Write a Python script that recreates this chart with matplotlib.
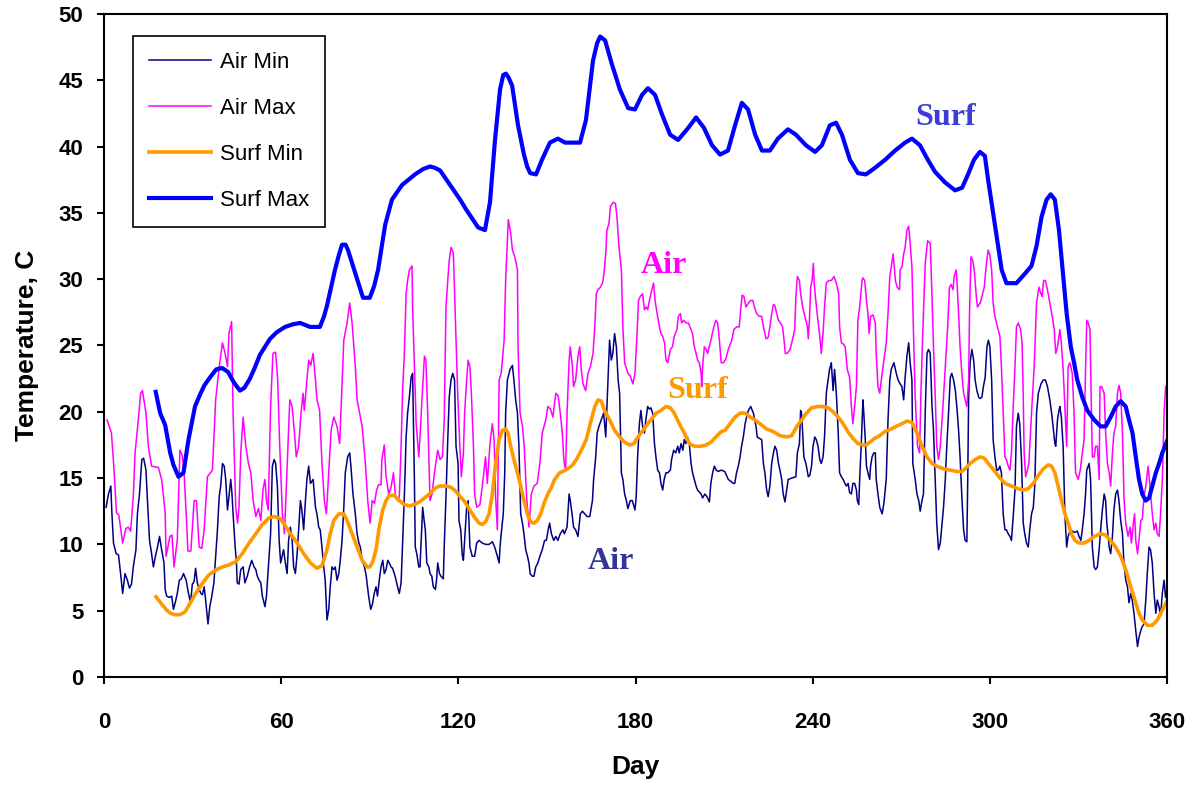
import matplotlib
matplotlib.use("Agg")
import matplotlib.pyplot as plt

plt.rcParams['font.family'] = ['Liberation Sans', 'DejaVu Sans']

# ---- data (day, temperature C) ----
air_max_day = [1, 2.5, 3.3, 4.2, 5, 6.3, 7.4, 8.2, 9, 9.9, 10.5, 11.6, 12.4, 13, 14.2, 15, 16.1, 18.4, 19.5, 20.7, 21, 22.3, 23, 23.7, 24.8, 25.7, 26.5, 27.1, 27.8, 28.4, 29.4, 30.5,
               31.3, 32.2, 33.1, 33.9, 35, 36.7, 37.8, 39, 40.1, 41, 41.8, 42.3, 43.2, 43.7, 44.6, 45.2, 45.7, 46.3, 47.1, 48, 48.9, 49.7, 50.5, 51.4, 52.3, 53.1, 53.8, 54.5, 55, 55.6, 56.4, 57.2, 58.1, 58.8, 59.5, 60.4, 61.1,
               62, 62.9, 63.7, 64.5, 65.1, 65.9, 66.7, 67.4, 67.8, 68.7, 69.3, 70, 70.8, 71.6, 72.1, 73, 73.8, 74.6, 75.3, 76.1, 76.9, 77.8, 78.9, 79.8, 80.3, 81.2, 82.3, 83.2, 84, 85.1, 85.7, 87.4, 88.5, 89.3,
               90.1, 90.8, 91.6, 92.3, 93, 93.8, 94.1, 94.9, 95.5, 96.4, 97.2, 98, 98.7, 99.4, 100, 100.6, 101.1, 101.7, 102.3, 102.8, 103.4, 104.3, 104.5, 105.1, 105.7, 106.6, 107, 107.7, 108.5, 109, 109.6, 110.4, 111.1, 111.9, 113, 113.8, 114.6, 115.2, 115.8, 116.4, 116.9, 117.5, 118.3, 119, 119.8,
               120.5, 121, 121.7, 122.1, 122.8, 123.3, 123.9, 124.4, 125.1, 125.5, 126.2, 127.3, 128.1, 128.7, 129.2, 129.8, 130.7, 131.5, 132.1, 132.6, 133.2, 133.8, 134.5, 135.5, 136, 136.6, 136.9, 137.7, 138.3, 139.1, 140, 140.2, 140.9, 141.7, 142.3, 143.1, 143.9, 144.7, 145.6, 146.7, 147.6, 148.4, 149.6,
               150.3, 151.2, 152, 153, 153.8, 154.5, 155.2, 155.7, 156.3, 156.8, 157.5, 157.9, 158.6, 159, 159.7, 160.5, 161.1, 161.6, 162.2, 163.1, 163.9, 164.7, 165.6, 166.2, 166.7, 167.3, 168.1, 168.8, 169.3, 169.9, 170.3, 171, 171.5, 172.4, 173.2, 173.7, 174.4, 175.2, 175.7, 176.3, 177.4, 178.2, 179.1, 179.8,
               180.5, 181, 181.6, 182.4, 183, 183.6, 184.1, 184.7, 185.5, 186.1, 186.6, 187.3, 188.1, 188.6, 189.2, 189.8, 190.3, 190.9, 191.8, 192.5, 193.1, 194, 194.5, 195.2, 195.6, 196.3, 197.1, 197.9, 198.6, 199.3, 199.9, 200.5, 201, 201.6, 202.2, 202.4, 202.7, 203.3, 203.9, 204.4, 205.3, 205.8, 206.5, 207.2, 207.8, 208.4, 209,
               209.8, 210.6, 211.4, 212.6, 213.3, 214.2, 215.1, 215.6, 216.1, 216.7, 217.4, 218.2, 219, 219.7, 220.4, 221, 221.9, 222.7, 223.5, 224.2, 224.9, 225.5, 226.1, 226.7, 227.2, 227.8, 228.4, 229.1, 229.8, 230.3, 230.7, 231.2, 231.7, 232.3, 232.9, 233.4, 233.9, 234.3, 234.8, 235.5, 235.9, 236.6, 237.1, 237.7, 238.2, 238.5, 238.9, 239.3, 239.8,
               240.2, 240.5, 240.9, 241.6, 242.4, 242.9, 243.5, 244, 244.6, 245.4, 246.3, 247.2, 248, 248.8, 249.1, 249.7, 250.4, 251, 251.7, 252.5, 253.1, 253.6, 254.2, 254.8, 255.3, 255.9, 256.7, 257, 257.6, 258.2, 258.7, 259.1, 259.6, 260.4, 261.2, 261.5, 262.1, 262.7, 263.5, 264.1, 264.9, 265.5, 266.1, 266.6, 267.2, 267.5, 268, 268.6, 269.4,
               269.6, 270.2, 270.8, 271.3, 271.9, 272.5, 273, 273.6, 274.1, 274.7, 275.5, 276.2, 276.6, 277.3, 278.1, 278.9, 279.8, 280.4, 280.9, 281.5, 282, 282.6, 283.2, 284.1, 284.9, 285.7, 286.3, 286.9, 287.5, 287.9, 288.6, 289, 289.4, 289.9, 290.5, 291.1, 291.6, 292.2, 292.8, 293.1, 293.6, 294.2, 294.7, 295.4, 295.8, 296.7, 297.3, 298.1, 298.7, 299.4,
               300, 300.6, 301.1, 301.7, 302.8, 303.4, 303.9, 304.5, 305.1, 305.6, 306.2, 306.8, 307.3, 307.9, 308.5, 309, 309.6, 310.4, 310.9, 311.3, 311.6, 312.1, 312.7, 313.2, 314.1, 315, 315.8, 316.6, 317.3, 317.7, 318.2, 318.8, 319.5, 320.3, 321.1, 321.8, 322.3, 322.9, 323.7, 324.2, 324.8, 325.4, 326, 326.5, 327.1, 327.9, 328.5, 329,
               329.9, 330.6, 331.3, 331.9, 332.4, 332.8, 333.3, 333.9, 334.4, 334.7, 335.3, 335.8, 336.4, 337, 337.3, 337.8, 338.7, 339.2, 339.8, 340.4, 340.9, 341.5, 342, 342.6, 343.2, 343.7, 344.3, 344.9, 345.4, 346, 346.8, 347.5, 347.9, 348.6, 349, 349.4, 350, 350.5, 351.1, 351.6, 352.2, 352.8, 353.6, 354.2, 355, 355.6, 356.2, 356.7, 357.3, 357.8, 358.4, 359, 359.5, 360]
air_max = [19.4, 18.4, 15.9, 12.4, 12.2, 10.1, 11.2, 11.3, 11.0, 13.6, 16.9, 19.4, 21.4, 21.6, 19.9, 17.4, 15.9, 15.8, 14.9, 12.4, 9.1, 10.6, 10.7, 8.3, 10.3, 17.1, 16.7, 15.4, 12.4, 9.5, 9.5, 13.3,
           13.3, 9.8, 9.7, 11.1, 15.1, 15.6, 20.9, 23.4, 25.2, 24.4, 23.4, 25.9, 26.8, 19.9, 12.8, 11.6, 12.8, 16.9, 19.6, 17.4, 16.1, 15.4, 13.3, 12.1, 12.7, 11.8, 14.1, 14.9, 13.3, 12.6, 20.4, 24.4, 24.5, 22.4, 17.4, 12.3, 10.8,
           15.9, 20.9, 20.4, 18.4, 16.6, 17.4, 19.9, 21.4, 20.1, 22.4, 23.9, 23.5, 24.4, 22.4, 20.9, 20.1, 16.1, 13.3, 12.3, 15.4, 18.6, 19.6, 18.9, 17.6, 20.4, 25.4, 26.7, 28.2, 26.7, 23.4, 20.9, 18.9, 16.1, 13.3,
           11.6, 13.3, 13.1, 14.1, 14.5, 14.5, 16.4, 17.5, 15.1, 13.8, 14.3, 15.4, 13.6, 13.3, 13.6, 17.4, 21.6, 24.4, 28.9, 29.9, 30.7, 31.0, 27.9, 23.4, 19.1, 16.6, 18.1, 21.1, 24.2, 23.9, 19.9, 13.3, 13.8, 15.4, 17.1, 16.4, 16.6, 19.4, 27.9, 29.9, 31.4, 32.4, 32.0, 26.9, 21.1,
           17.4, 15.1, 16.9, 19.9, 22.4, 23.9, 23.4, 21.4, 17.4, 13.8, 12.8, 13.0, 14.4, 15.6, 16.6, 14.6, 17.6, 19.1, 17.9, 13.6, 11.1, 22.4, 22.9, 25.4, 29.9, 33.0, 34.5, 33.5, 32.2, 31.7, 30.7, 24.9, 19.9, 18.9, 17.4, 13.6, 11.3, 13.8, 14.4, 14.6, 16.1, 18.4, 19.4,
           20.4, 20.2, 19.6, 21.4, 21.2, 19.9, 18.4, 16.4, 15.6, 19.9, 23.9, 24.9, 23.4, 21.9, 22.4, 24.2, 24.9, 23.2, 22.1, 21.6, 22.9, 23.4, 24.4, 26.4, 28.9, 29.2, 29.4, 29.7, 30.4, 31.9, 33.7, 34.2, 35.5, 35.8, 35.7, 34.7, 32.4, 30.7, 26.4, 23.7, 22.9, 22.7, 22.1, 22.9,
           25.9, 28.4, 28.7, 28.9, 27.7, 27.9, 27.7, 28.4, 29.2, 29.7, 28.4, 27.4, 26.4, 25.9, 25.7, 25.2, 23.9, 23.7, 24.7, 24.9, 25.7, 26.2, 27.2, 27.4, 26.7, 26.9, 26.7, 26.7, 26.3, 25.9, 24.9, 24.4, 23.9, 23.7, 22.9, 21.9, 23.4, 24.9, 24.7, 24.4, 25.2, 25.7, 26.4, 26.9, 26.7, 25.4, 23.7,
           23.7, 24.0, 24.7, 25.4, 26.2, 26.4, 26.4, 27.7, 28.8, 28.7, 27.9, 28.2, 28.4, 28.4, 27.8, 27.4, 27.2, 27.2, 26.2, 25.5, 25.6, 26.4, 27.4, 28.1, 28.0, 27.4, 26.9, 26.7, 26.4, 25.4, 24.4, 24.4, 24.5, 24.7, 25.2, 25.7, 26.2, 28.7, 30.2, 29.9, 28.9, 27.9, 27.4, 26.9, 26.4, 25.5, 27.0, 29.4, 29.9,
           31.2, 29.7, 28.7, 27.2, 25.7, 24.4, 25.9, 27.9, 29.7, 29.9, 29.9, 30.2, 29.7, 28.9, 26.4, 25.2, 25.1, 24.9, 23.2, 22.6, 20.4, 19.1, 20.4, 21.9, 26.9, 27.9, 29.9, 30.1, 29.9, 28.4, 27.4, 25.9, 27.2, 27.3, 26.7, 24.4, 21.9, 21.4, 22.9, 23.9, 25.2, 27.4, 30.2, 30.9, 31.9, 31.2, 29.9, 29.4, 29.2,
           30.7, 30.9, 31.9, 32.4, 33.7, 34.0, 32.7, 30.9, 26.2, 21.1, 17.4, 16.9, 21.1, 26.2, 31.2, 32.9, 32.7, 28.7, 24.9, 21.1, 17.4, 16.4, 17.4, 20.4, 23.4, 26.4, 29.4, 29.6, 29.2, 30.2, 30.7, 29.2, 27.4, 24.9, 22.9, 21.4, 20.9, 20.4, 22.4, 27.4, 31.7, 31.4, 30.7, 28.7, 27.9, 28.2, 28.7, 29.4, 30.9, 32.2,
           31.8, 30.7, 28.2, 27.2, 26.2, 25.7, 23.4, 19.9, 16.6, 16.4, 15.9, 15.6, 16.9, 20.4, 23.4, 26.4, 26.7, 26.2, 25.2, 21.1, 16.9, 15.1, 15.6, 16.1, 19.9, 23.4, 28.2, 29.4, 28.9, 28.7, 29.9, 29.9, 29.2, 28.2, 27.2, 26.2, 24.4, 24.9, 26.2, 25.2, 23.2, 20.4, 17.4, 23.4, 23.7, 22.9, 19.9, 15.4,
           14.9, 15.6, 16.9, 17.9, 23.2, 26.9, 26.7, 26.2, 19.9, 16.6, 16.6, 17.4, 17.4, 14.9, 21.9, 21.9, 21.4, 18.4, 16.1, 15.4, 14.4, 16.9, 18.4, 18.9, 21.4, 22.0, 21.4, 18.4, 13.6, 11.6, 10.6, 11.3, 10.1, 11.6, 12.3, 10.3, 9.3, 10.3, 11.8, 11.9, 13.6, 14.4, 15.9, 14.4, 12.3, 11.1, 11.6, 10.8, 10.6, 12.3, 14.9, 19.9, 21.9, 22.0]

air_min_day = [0.7, 1.5, 2.3, 2.6, 3.2, 4.1, 4.9, 5.6, 6.3, 7.1, 7.9, 8.6, 9.3, 9.9, 10.8, 11.3, 12, 12.8, 13.4, 14.2, 14.7, 15.4, 16.1, 16.7, 17.3, 18.1, 18.8, 19.5, 20.3, 20.7, 21.2, 22.1, 22.9, 23.5, 24.1, 24.8, 25.5, 26.2, 26.9, 27.8, 28.6, 29.3, 29.9,
               30.5, 31, 31.6, 32.2, 32.8, 33.3, 33.9, 34.4, 35.2, 35.8, 36.5, 37.2, 37.8, 38.4, 39, 39.5, 40.1, 40.7, 41.2, 41.8, 42.3, 42.9, 43.3, 43.7, 44.4, 44.8, 45.1, 45.7, 46.3, 47.1, 47.7, 48.5, 49.3, 50, 50.8, 51.4, 51.9, 52.5, 53.1, 53.6, 54.5, 55, 55.6, 56.4, 57, 57.6, 58.1, 58.7, 59.3, 59.8,
               60.3, 60.8, 61.4, 62, 62.5, 63.1, 63.7, 64.2, 64.8, 65.4, 65.9, 66.5, 67, 67.6, 68.2, 68.7, 69.3, 69.9, 70.8, 71.6, 72.1, 72.7, 73.2, 73.8, 74.4, 74.9, 75.5, 76.1, 76.6, 77.2, 77.8, 78.3, 78.9, 79.5, 80, 80.6, 81.2, 81.7, 82.5, 83.2, 83.6, 84.3, 85.1, 85.7, 86.3, 86.8, 87.4, 88.2, 88.8, 89.6,
               90.3, 90.9, 91.5, 92.1, 92.6, 93.2, 93.8, 94.4, 94.9, 95.5, 96.1, 96.6, 97.2, 97.7, 98.3, 98.9, 99.4, 100, 100.6, 101.1, 101.7, 102.3, 102.8, 103.4, 104, 104.5, 105.1, 105.4, 105.9, 106.6, 107, 107.3, 107.9, 108.4, 108.8, 109.3, 110, 110.4, 111, 111.5, 112.2, 112.6, 113, 113.6, 114.1, 114.9, 115.2, 115.8, 116.4, 116.9, 117.5, 118.1, 118.7, 119.2, 119.9,
               120.2, 120.8, 121.3, 121.7, 122.1, 122.8, 123.3, 123.9, 124.7, 125.5, 126.2, 127, 128.1, 129.2, 130.4, 131.5, 132.3, 133.2, 133.8, 134.1, 134.5, 135.2, 135.7, 136, 136.6, 137.5, 138.3, 138.8, 139.4, 140, 140.5, 141.1, 141.7, 142.2, 142.8, 143.4, 143.9, 144.3, 145, 145.6, 146.2, 146.9, 147.6, 148.4, 149.2, 149.8,
               150.4, 150.9, 151.5, 152.3, 153, 153.7, 154.5, 155.4, 155.9, 156.8, 157.5, 157.9, 158.6, 159, 159.7, 160.5, 161.3, 162, 162.8, 163.6, 164.5, 165.4, 165.8, 166.5, 167, 167.6, 168.4, 169.2, 169.9, 170.3, 170.7, 171.2, 171.8, 172.3, 172.9, 173.5, 174.1, 174.6, 174.9, 175.2, 175.7, 176.3, 176.9, 177.4, 178.2, 178.9, 179.8,
               180.2, 180.7, 181.3, 181.8, 182.4, 183, 183.5, 184.1, 184.7, 185.2, 185.8, 186.4, 187, 187.5, 188.1, 188.6, 189.2, 189.7, 190.3, 190.9, 191.8, 192.2, 192.9, 193.6, 194.3, 194.8, 195.4, 196, 196.5, 197, 197.6, 198.2, 198.8, 199.3, 199.9, 200.5, 201, 202.2, 202.7, 203.5, 204.2, 205, 205.5, 206.1, 206.7, 207.3, 208, 209,
               210.2, 211.4, 212, 213.1, 213.6, 214.2, 214.8, 215.4, 215.9, 216.5, 217.1, 217.6, 218.2, 219, 219.9, 220.8, 221.2, 221.9, 222.7, 223.3, 223.8, 224.4, 224.9, 225.5, 226.1, 226.7, 227.2, 227.8, 228.4, 228.9, 229.5, 230, 230.6, 231.2, 231.7, 232.9, 234.3, 234.8, 235.5, 235.9, 236.2, 236.6, 237, 237.7, 238.5, 239, 239.6,
               240.1, 240.7, 241.2, 241.8, 242.4, 242.9, 243.5, 244, 244.6, 245.2, 245.7, 246.3, 246.9, 247.4, 248, 248.6, 249.1, 249.7, 250.3, 250.9, 251.4, 252, 252.5, 253.1, 253.6, 254.2, 254.8, 255.1, 255.6, 255.9, 256.5, 257, 257.3, 257.8, 258.2, 258.7, 259.3, 259.6, 260.1, 260.7, 261.2, 261.5, 262.1, 262.7, 263.5, 264.1, 264.9, 265.5, 266.1, 266.6, 267.5, 268.3, 268.9, 269.6,
               270.2, 270.8, 271.3, 271.9, 272.5, 273, 273.6, 273.9, 274.7, 275.3, 275.9, 276.4, 277, 277.5, 278.1, 278.7, 279.2, 279.8, 280.4, 280.9, 281.5, 282, 282.6, 283.2, 283.7, 284.3, 284.9, 285.4, 286, 286.6, 287.1, 287.7, 288.3, 288.8, 289.4, 289.9, 290.5, 291.1, 291.6, 292.2, 292.5, 292.8, 293.3, 293.9, 294.5, 295, 295.6, 296.2, 296.7, 297.3, 297.8, 298.4, 299, 299.5,
               300, 300.6, 301.1, 301.7, 302.3, 302.8, 303.4, 303.9, 304.5, 305.1, 305.6, 306.2, 306.8, 307.3, 307.9, 308.5, 309, 309.6, 310.1, 310.7, 311.3, 311.8, 312.4, 313, 313.5, 314.1, 314.7, 315.2, 315.8, 316.4, 317.3, 318.1, 318.8, 319.5, 320.3, 320.9, 321.4, 322, 322.3, 322.9, 323.4, 323.7, 324.2, 324.8, 325.4, 326, 326.5, 327.1, 327.9, 328.7, 329.6,
               330.2, 330.8, 331.3, 331.9, 332.4, 332.8, 333.6, 334.1, 334.7, 335.3, 335.8, 336.4, 337, 337.5, 338.1, 338.7, 339.2, 339.6, 340.4, 340.9, 341.5, 342, 342.6, 343.2, 343.7, 344.3, 344.9, 345.4, 346, 346.6, 347.1, 347.7, 348.2, 348.8, 349.4, 350, 350.5, 351.1, 351.6, 352.2, 352.8, 353.3, 353.9, 354.4, 355, 355.6, 356.2, 356.7, 357.3, 357.8, 358.4, 359, 359.5, 359.9, 360]
air_min = [12.8, 13.8, 14.4, 12.6, 10.1, 9.3, 9.2, 7.8, 6.3, 7.8, 7.3, 6.7, 7.0, 8.3, 9.6, 12.3, 13.8, 16.4, 16.5, 15.6, 13.3, 10.3, 9.3, 8.3, 9.0, 9.8, 10.6, 9.6, 8.6, 6.6, 6.1, 6.0, 6.1, 5.1, 5.6, 6.3, 7.3, 7.4, 7.8, 7.3, 6.3, 5.6, 7.0,
           7.2, 8.2, 7.1, 6.6, 6.3, 6.2, 6.8, 5.8, 4.0, 5.3, 6.1, 7.1, 9.1, 11.1, 13.6, 14.4, 16.1, 15.9, 14.9, 12.6, 13.6, 14.9, 13.9, 12.3, 9.8, 8.8, 7.1, 7.0, 8.1, 8.3, 7.1, 7.6, 8.3, 8.8, 8.3, 8.1, 7.6, 7.3, 7.1, 6.1, 5.3, 6.1, 8.1, 10.8, 15.9, 16.4, 16.1, 14.4, 10.3, 8.6,
           9.1, 9.6, 8.6, 7.8, 10.3, 11.3, 10.3, 8.3, 7.8, 9.3, 11.1, 13.3, 12.6, 11.1, 13.3, 14.9, 15.9, 14.6, 14.9, 12.8, 12.3, 11.3, 11.1, 9.8, 8.3, 7.3, 4.3, 5.1, 6.8, 8.3, 8.1, 8.3, 7.3, 7.8, 8.8, 10.3, 12.8, 15.4, 16.6, 16.9, 15.9, 13.8, 12.3, 10.8, 10.1, 9.8, 8.8, 8.3, 7.6, 6.1,
           5.1, 5.5, 6.3, 6.8, 6.1, 7.3, 8.3, 8.8, 7.8, 8.1, 8.8, 8.6, 8.3, 8.2, 7.8, 7.3, 6.8, 6.3, 7.1, 10.1, 13.6, 18.1, 19.9, 21.1, 22.6, 22.9, 14.9, 9.8, 9.3, 8.3, 8.3, 9.8, 12.8, 11.8, 11.1, 8.6, 8.3, 7.8, 7.6, 6.8, 6.6, 7.3, 8.6, 7.8, 7.6, 7.4, 9.8, 13.6, 17.9, 21.1, 22.4, 22.9, 22.4, 17.4, 16.1,
           11.8, 11.1, 9.2, 8.8, 10.3, 12.8, 13.3, 9.8, 9.1, 9.1, 10.1, 10.3, 10.1, 10.0, 10.0, 10.2, 9.8, 9.1, 8.6, 9.8, 10.8, 12.3, 15.4, 19.9, 22.4, 23.2, 23.5, 22.4, 20.9, 19.9, 17.4, 12.3, 11.6, 10.8, 9.6, 9.1, 8.6, 7.8, 7.6, 7.6, 8.3, 8.6, 9.1, 9.6, 10.3, 10.3,
           11.1, 11.6, 10.8, 10.3, 10.6, 10.3, 10.8, 11.1, 10.8, 11.3, 13.8, 13.3, 12.1, 11.3, 11.1, 10.6, 12.3, 12.5, 12.3, 12.1, 12.1, 13.3, 14.9, 16.6, 18.4, 18.9, 19.4, 19.9, 18.1, 20.4, 22.9, 25.4, 23.9, 24.4, 25.9, 24.9, 22.4, 21.4, 18.4, 15.4, 14.9, 13.8, 13.3, 12.7, 13.3, 13.3, 12.6,
           13.5, 16.6, 19.1, 20.1, 18.9, 18.4, 19.4, 20.4, 20.2, 20.3, 19.9, 17.6, 16.4, 15.6, 15.4, 14.6, 14.1, 14.9, 15.4, 15.4, 15.6, 16.4, 17.1, 16.9, 17.4, 16.9, 17.6, 17.1, 17.9, 17.6, 18.1, 17.6, 16.1, 15.4, 14.9, 14.4, 14.1, 13.8, 13.5, 13.8, 13.6, 13.2, 14.6, 15.4, 15.9, 15.6, 15.5, 15.6,
           15.5, 14.9, 14.8, 14.6, 14.6, 15.4, 15.9, 16.6, 17.4, 18.1, 19.1, 19.6, 20.1, 20.4, 19.9, 18.9, 18.1, 18.0, 17.9, 16.1, 15.4, 14.1, 13.6, 14.4, 16.1, 16.9, 17.4, 17.1, 16.1, 15.6, 14.9, 13.8, 13.2, 14.1, 14.9, 15.0, 15.1, 16.9, 17.6, 20.1, 19.9, 18.4, 16.6, 16.1, 15.1, 15.2, 15.9,
           17.4, 18.1, 17.9, 17.4, 16.4, 16.1, 16.6, 18.1, 21.4, 22.4, 23.2, 23.7, 21.6, 23.2, 21.4, 18.6, 15.4, 15.1, 14.9, 14.6, 14.4, 14.6, 13.9, 13.8, 14.6, 14.6, 14.1, 13.3, 13.0, 14.9, 17.9, 20.9, 19.9, 17.9, 15.9, 15.4, 14.9, 15.9, 16.6, 16.9, 16.9, 14.9, 13.8, 12.8, 12.3, 13.1, 14.9, 19.4, 22.4, 23.2, 23.7, 22.9, 22.4, 22.1,
           21.9, 20.9, 22.6, 24.2, 25.2, 23.7, 22.4, 16.1, 14.9, 13.8, 13.3, 12.5, 13.3, 13.8, 19.9, 24.4, 24.7, 24.4, 20.4, 18.6, 14.9, 11.6, 9.6, 10.1, 11.3, 12.8, 14.9, 17.4, 19.9, 22.6, 22.9, 22.4, 21.6, 20.4, 18.6, 16.6, 13.6, 11.1, 10.3, 10.2, 14.9, 21.1, 23.7, 24.7, 23.9, 22.4, 21.6, 21.1, 21.0, 21.1, 21.9, 22.6, 24.9, 25.4,
           24.9, 22.4, 17.9, 16.6, 15.6, 15.6, 15.9, 15.4, 12.3, 11.1, 11.1, 10.8, 10.6, 10.3, 12.1, 14.1, 18.9, 19.9, 19.1, 16.4, 11.6, 10.8, 10.1, 9.8, 11.1, 12.3, 12.8, 14.4, 19.9, 21.4, 22.1, 22.4, 22.4, 21.9, 20.9, 19.9, 18.9, 17.6, 17.4, 19.4, 20.1, 20.4, 19.6, 17.4, 12.3, 9.8, 10.6, 11.0, 11.0, 10.9, 11.0,
           10.6, 10.3, 11.1, 12.3, 13.8, 15.6, 16.1, 14.9, 9.8, 8.3, 8.1, 8.3, 9.6, 11.1, 12.6, 13.8, 13.3, 11.6, 9.8, 9.3, 10.6, 12.6, 13.8, 14.1, 13.3, 11.8, 10.8, 8.6, 7.3, 6.8, 5.6, 6.3, 5.8, 4.8, 3.5, 2.3, 3.0, 3.5, 3.8, 4.0, 5.8, 7.8, 9.8, 9.6, 8.6, 6.3, 4.8, 5.8, 5.3, 4.6, 6.3, 7.3, 6.0, 6.5, 17.0]

surf_max_day = [17.5, 19, 20.7, 22.4, 23.5, 25.2, 26.9, 28.6, 30.8, 32.5, 34, 35.9, 38, 40, 42, 44, 46, 47.5, 49.4, 51, 52.8, 56.2, 58.5, 61.3, 64, 66.4, 69.8, 73.1, 74.5, 75.5, 77, 78.2, 79.5, 80.6, 81.8, 82.6, 85, 87.7, 90, 91.5, 92.8, 95.2, 97.5, 100.9, 105.3, 108, 110.4, 112, 113.8, 117.2, 120.6, 122.5, 124, 126.7, 129,
                130.7, 132.4, 134.1, 135.2, 136.1, 137, 138.2, 140.2, 142.2, 143.3, 144.3, 146.3, 148.3, 151, 153.7, 156.1, 161.2, 163.2, 165.6, 167, 168, 169.7, 172, 174.7, 177.5, 179.8, 182.2, 184.2, 186.6, 189, 191.7, 194.4, 197.8, 200.5, 203.2, 205.9, 208.6, 211.3, 213.7, 216, 218.1, 220.5, 222.8, 225.5, 228.2,
                231.6, 234.3, 237.7, 240.8, 243.1, 245.8, 247.9, 249.9, 252.6, 255.3, 258, 261.1, 264.5, 267.9, 271.3, 273.6, 276.3, 279, 281.4, 284.8, 288.2, 290.6, 292.6, 294.6, 296.6, 298.3, 299.4, 301.1, 302.8, 304, 305.6, 309, 311.8, 314.1, 315.8, 317.5, 319.2, 320.6, 322, 323.4, 324.5, 326, 327.4, 328.5,
                329.6, 331.3, 333, 335.3, 337.5, 339.2, 340.9, 342.6, 344.3, 346, 347.1, 348.3, 349.4, 350.5, 351.6, 352.8, 353.9, 355, 356.2, 357.3, 358.4, 360]
surf_max = [21.5, 19.9, 19.0, 16.9, 16.0, 15.1, 15.4, 17.9, 20.4, 21.3, 22.0, 22.6, 23.2, 23.3, 23.0, 22.2, 21.6, 21.8, 22.5, 23.3, 24.3, 25.5, 26.0, 26.4, 26.6, 26.7, 26.4, 26.4, 27.2, 28.0, 29.5, 30.7, 31.8, 32.6, 32.6, 32.2, 30.5, 28.6, 28.6, 29.5, 30.7, 34.1, 36.0, 37.1, 37.9, 38.3, 38.5, 38.4, 38.2, 37.1, 36.0, 35.3, 34.8, 33.9, 33.7,
            35.8, 40.5, 44.3, 45.4, 45.5, 45.2, 44.6, 41.6, 39.4, 38.5, 38.0, 37.9, 39.0, 40.3, 40.6, 40.3, 40.3, 42.0, 46.5, 47.8, 48.3, 48.0, 46.2, 44.3, 42.9, 42.8, 43.9, 44.4, 43.9, 42.4, 40.9, 40.5, 41.4, 42.2, 41.4, 40.1, 39.4, 39.7, 41.6, 43.3, 42.8, 40.9, 39.7, 39.7, 40.6,
            41.3, 40.9, 40.1, 39.6, 40.1, 41.6, 41.8, 40.9, 39.0, 38.0, 37.9, 38.4, 39.0, 39.7, 40.3, 40.6, 40.1, 39.0, 38.1, 37.3, 36.7, 36.9, 37.9, 39.0, 39.6, 39.3, 37.5, 35.0, 32.5, 30.7, 29.7, 29.7, 30.4, 31.0, 32.5, 34.7, 36.0, 36.4, 36.0, 33.7, 31.0, 27.4, 24.9, 23.7,
            22.4, 21.1, 20.1, 19.4, 18.9, 18.9, 19.6, 20.4, 20.8, 20.4, 19.4, 18.4, 16.6, 14.9, 13.8, 13.3, 13.5, 14.4, 15.4, 16.1, 16.9, 17.8]

surf_min_day = [17.6, 19.5, 21.2, 22.5, 24, 25.7, 27.4, 29.1, 31, 33.3, 35.5, 37.8, 40.1, 42.3, 44.6, 46.8, 49.1, 51.4, 53.6, 55.9, 57.6, 59.3, 60.8, 63.1, 65.4, 67.6, 69.9, 72.1, 73.8, 75.5, 76.6, 77.8, 79.5, 81.2, 82.3, 84, 85.7, 87.4, 89.1,
                90, 91, 92.1, 93.2, 94.4, 95.5, 96.6, 98.3, 100, 101.7, 103.4, 105, 106.8, 108.5, 110.2, 111.9, 113.5, 115.8, 117.5, 119.2, 120.2, 121.9, 123.6, 125.3, 127, 128.1, 129.2, 130.4, 131.5, 132.6, 133.8, 134.9, 136, 136.8, 137.7, 138.8, 140, 141.1, 142.2, 143.4, 144.5, 145.6, 146.7, 147.9, 149,
                150.3, 151.5, 152.6, 154.3, 156.3, 158.3, 160, 161.6, 163.3, 165, 166.2, 167.3, 168.4, 169.5, 171.2, 172.9, 174.6, 176.3, 178, 179.5, 180.2, 181.8, 183.5, 185.2, 187, 188.6, 190.3, 191.8, 193.1, 194.8, 196.5, 198.2, 199.9, 202.2, 203.9, 205.5, 207.2, 209,
                210.3, 212, 213.7, 215.4, 217.1, 218.8, 220.4, 222.1, 224.4, 226.7, 228.9, 231.2, 232.9, 234.6, 236.3, 237.9, 239.6, 241.8, 243.5, 245.2, 246.9, 248.6, 250.3, 251.9, 253.6, 255.3, 257, 258.2, 259.3, 261, 262.7, 264.4, 266.6, 268.7,
                270.2, 271.9, 273.6, 275.3, 277, 278.7, 280.4, 282, 284.3, 286.6, 288.8, 290.5, 291.6, 293.3, 295, 296.7, 298.1, 299.5, 301.7, 303.4, 305.1, 307.3, 309.6, 311.3, 313, 314.7, 316.4, 318.1, 319.8, 320.9, 322, 323.1, 324.3, 325.4, 326.5, 327.6, 328.8,
                330.2, 331.9, 333.6, 335.3, 337.5, 339.2, 340.9, 342.6, 344.3, 346, 347.7, 349.4, 350.5, 351.6, 353.3, 355, 356.7, 358.4, 359.9]
surf_min = [6.05, 5.5, 5.05, 4.8, 4.7, 4.7, 4.9, 5.55, 6.3, 7.06, 7.7, 8.07, 8.3, 8.45, 8.7, 9.3, 10.1, 10.8, 11.5, 12.0, 12.1, 12.0, 11.6, 10.8, 10.1, 9.3, 8.6, 8.2, 8.4, 9.6, 10.8, 11.8, 12.3, 12.3, 11.8, 10.8, 9.8, 8.8, 8.3,
            8.3, 8.7, 9.6, 11.3, 12.6, 13.3, 13.7, 13.7, 13.3, 13.0, 12.9, 13.0, 13.2, 13.5, 13.8, 14.2, 14.4, 14.4, 14.3, 14.0, 13.7, 13.3, 12.7, 12.1, 11.6, 11.5, 11.7, 12.3, 13.8, 16.1, 17.9, 18.6, 18.7, 18.4, 17.4, 16.4, 15.4, 14.4, 13.3, 12.3, 11.7, 11.6, 11.8, 12.3, 13.1,
            13.8, 14.3, 14.9, 15.4, 15.6, 15.9, 16.4, 17.1, 17.9, 19.4, 20.4, 20.9, 20.8, 20.1, 19.4, 18.6, 18.1, 17.7, 17.5, 17.6, 17.9, 18.4, 18.9, 19.4, 19.9, 20.1, 20.4, 20.3, 19.9, 19.1, 18.4, 17.6, 17.4, 17.4, 17.5, 17.7, 18.1, 18.5,
            18.6, 19.1, 19.6, 19.9, 19.9, 19.6, 19.4, 19.1, 18.7, 18.5, 18.2, 18.1, 18.2, 18.9, 19.4, 19.9, 20.3, 20.4, 20.4, 20.3, 20.0, 19.6, 19.1, 18.5, 18.0, 17.6, 17.5, 17.5, 17.7, 18.0, 18.2, 18.5, 18.7, 18.95,
            19.1, 19.3, 19.2, 18.4, 17.4, 16.6, 16.1, 15.9, 15.7, 15.6, 15.5, 15.5, 15.7, 16.1, 16.4, 16.6, 16.5, 16.1, 15.5, 15.0, 14.6, 14.4, 14.2, 14.1, 14.2, 14.6, 15.2, 15.7, 16.0, 15.9, 15.4, 14.4, 13.3, 12.3, 11.6, 10.8, 10.3,
            10.1, 10.1, 10.3, 10.6, 10.8, 10.7, 10.3, 9.8, 9.1, 8.1, 6.8, 5.6, 4.8, 4.3, 3.9, 3.9, 4.3, 5.05, 5.7]

x_ticks = [0, 60, 120, 180, 240, 300, 360]
y_ticks = [0, 5, 10, 15, 20, 25, 30, 35, 40, 45, 50]

fig = plt.figure(figsize=(11.96, 7.86), dpi=100)
ax = fig.add_axes([0.087, 0.1387, 0.8888, 0.8435])

ax.plot(air_min_day, air_min, color='#000080', lw=1.1, label='Air Min')
ax.plot(air_max_day, air_max, color='#ff00ff', lw=1.1, label='Air Max')
ax.plot(surf_min_day, surf_min, color='#ff9900', lw=2.6, label='Surf Min')
ax.plot(surf_max_day, surf_max, color='#0000ff', lw=3.0, label='Surf Max')

ax.set_xlim(0, 360)
ax.set_ylim(0, 50)
ax.set_xticks(x_ticks)
ax.set_yticks(y_ticks)
ax.tick_params(direction='out', length=5, width=1.5, labelsize=16)
ax.tick_params(axis='x', pad=20)
ax.tick_params(axis='y', pad=10)
for lab in ax.get_xticklabels() + ax.get_yticklabels():
    lab.set_fontweight('bold')
for sp in ax.spines.values():
    sp.set_linewidth(1.5)

ax.set_xlabel('Day', fontsize=19, fontweight='bold', labelpad=16)
ax.set_ylabel('Temperature, C', fontsize=19, fontweight='bold', labelpad=14)

# in-plot annotations
serif = ['Liberation Serif', 'DejaVu Serif']
ax.text(285, 42.2, 'Surf', color='#3c3cd8', fontsize=23, fontweight='bold', family=serif, ha='center', va='center')
ax.text(189.5, 31.0, 'Air', color='#ff00ff', fontsize=23, fontweight='bold', family=serif, ha='center', va='center')
ax.text(201, 21.6, 'Surf', color='#ff9900', fontsize=23, fontweight='bold', family=serif, ha='center', va='center')
ax.text(171.5, 8.7, 'Air', color='#333399', fontsize=23, fontweight='bold', family=serif, ha='center', va='center')

leg = ax.legend(loc='upper left', bbox_to_anchor=(0.0273, 0.967), borderaxespad=0, fontsize=16, frameon=True,
                fancybox=False, edgecolor='black', framealpha=1, handlelength=2.8, labelspacing=1.12,
                borderpad=0.72, handletextpad=0.4)
leg.get_frame().set_linewidth(1.2)

fig.savefig('out.png', dpi=100)
